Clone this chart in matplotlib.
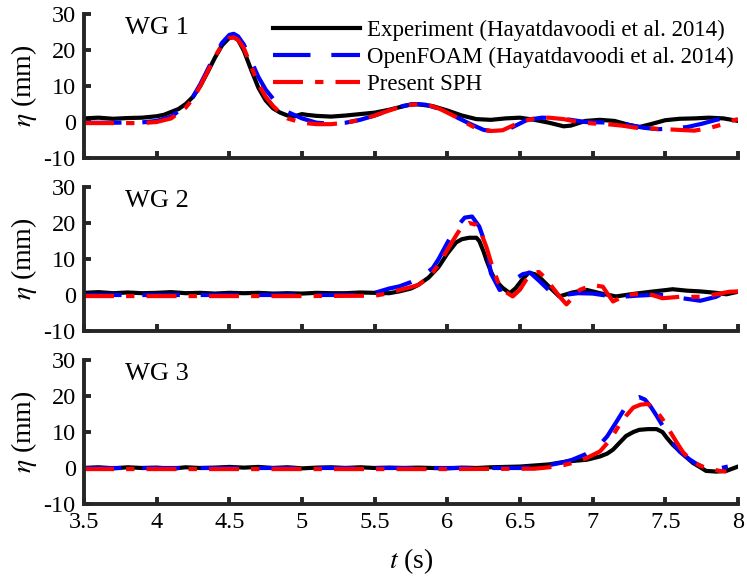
import numpy as np
import matplotlib.pyplot as plt

plt.rcParams['font.family'] = ['Liberation Serif', 'DejaVu Serif']
plt.rcParams['mathtext.fontset'] = 'stix'
plt.rcParams['axes.unicode_minus'] = False

# ---- WG 1 ----
t_exp1 = [3.50, 3.60, 3.70, 3.80, 3.90, 4.00, 4.05, 4.10, 4.15, 4.20, 4.25, 4.30, 4.35, 4.40,
          4.45, 4.50, 4.53, 4.56, 4.60, 4.65, 4.70, 4.75, 4.80, 4.85, 4.90, 4.95, 5.00, 5.03,
          5.10, 5.20, 5.30, 5.40, 5.50, 5.60, 5.70, 5.75, 5.80, 5.90, 6.00, 6.10, 6.20, 6.30,
          6.40, 6.50, 6.60, 6.70, 6.80, 6.85, 6.95, 7.05, 7.15, 7.25, 7.32, 7.40, 7.50, 7.60,
          7.70, 7.80, 7.90, 8.00]
eta_exp1 = [1.0, 1.2, 0.9, 1.1, 1.2, 1.6, 2.0, 2.8, 3.6, 5.0, 7.0, 10.0, 13.8, 17.8,
            21.3, 23.4, 23.6, 22.8, 19.8, 14.5, 9.5, 6.0, 3.8, 2.6, 1.8, 1.6, 2.2, 2.0,
            1.7, 1.5, 1.8, 2.2, 2.6, 3.4, 4.4, 4.9, 4.9, 4.4, 3.2, 1.8, 0.8, 0.6,
            1.0, 1.2, 0.6, -0.2, -1.2, -1.0, 0.3, 0.6, 0.3, -0.8, -1.4, -0.6, 0.5, 0.9,
            1.0, 1.2, 1.0, 0.3]
t_of1 = [3.50, 3.70, 3.90, 4.00, 4.10, 4.20, 4.25, 4.30, 4.35, 4.40, 4.45, 4.50, 4.53, 4.56,
         4.60, 4.65, 4.70, 4.75, 4.80, 4.85, 4.90, 5.00, 5.10, 5.20, 5.30, 5.40, 5.50, 5.60,
         5.70, 5.78, 5.85, 5.95, 6.05, 6.15, 6.25, 6.32, 6.40, 6.48, 6.55, 6.65, 6.75, 6.85,
         6.95, 7.05, 7.15, 7.25, 7.35, 7.45, 7.55, 7.65, 7.75, 7.85, 7.95, 8.00]
eta_of1 = [-0.2, -0.2, -0.1, 0.3, 1.5, 4.5, 7.0, 10.5, 14.5, 18.5, 22.0, 24.2, 24.5, 23.8,
           21.5, 17.0, 12.5, 9.0, 6.5, 4.5, 2.8, 1.0, -0.2, -0.5, -0.2, 0.6, 1.8, 3.2,
           4.5, 5.0, 4.8, 3.6, 1.6, -0.4, -2.2, -2.6, -2.4, -0.8, 0.6, 1.2, 1.1, 0.6,
           0.0, -0.1, -0.2, -0.8, -1.6, -2.0, -1.8, -1.4, -0.5, 0.6, 1.4, 1.3]
t_sph1 = [3.50, 3.70, 3.90, 4.00, 4.10, 4.20, 4.25, 4.30, 4.35, 4.40, 4.45, 4.50, 4.53, 4.56,
          4.60, 4.65, 4.70, 4.75, 4.80, 4.85, 4.90, 5.00, 5.10, 5.20, 5.30, 5.40, 5.50, 5.60,
          5.70, 5.80, 5.88, 5.95, 6.05, 6.10, 6.20, 6.30, 6.38, 6.45, 6.52, 6.60, 6.70, 6.80,
          6.90, 7.00, 7.10, 7.20, 7.30, 7.40, 7.50, 7.60, 7.70, 7.80, 7.90, 7.95, 8.00]
eta_sph1 = [-0.3, -0.3, -0.3, 0.0, 1.0, 4.0, 6.5, 10.0, 14.0, 18.0, 21.5, 23.3, 23.5, 22.8,
            20.5, 15.5, 10.5, 7.0, 4.5, 2.5, 1.0, -0.2, -0.6, -0.6, -0.2, 0.6, 1.8, 3.2,
            4.5, 5.0, 4.6, 3.6, 1.6, 0.4, -1.8, -2.5, -2.3, -1.0, 0.2, 1.0, 1.2, 0.8,
            0.0, -0.4, -0.6, -1.0, -1.6, -1.8, -2.0, -2.2, -2.4, -1.7, -0.6, 0.3, 0.8]

# ---- WG 2 ----
t_exp2 = [3.50, 3.60, 3.70, 3.80, 3.90, 4.00, 4.10, 4.20, 4.30, 4.40, 4.50, 4.60, 4.70, 4.80,
          4.90, 5.00, 5.10, 5.20, 5.30, 5.40, 5.50, 5.60, 5.67, 5.75, 5.80, 5.87, 5.94, 6.00,
          6.06, 6.10, 6.15, 6.20, 6.22, 6.25, 6.27, 6.30, 6.33, 6.38, 6.43, 6.47, 6.52, 6.56,
          6.60, 6.63, 6.70, 6.77, 6.86, 6.96, 7.05, 7.16, 7.28, 7.40, 7.51, 7.55, 7.65, 7.74,
          7.85, 7.92, 8.00]
eta_exp2 = [0.6, 0.8, 0.5, 0.7, 0.5, 0.6, 0.8, 0.5, 0.6, 0.4, 0.6, 0.5, 0.6, 0.4,
            0.5, 0.4, 0.6, 0.5, 0.5, 0.7, 0.6, 0.5, 1.0, 1.8, 2.8, 4.8, 7.8, 11.5,
            14.6, 15.5, 15.9, 15.9, 15.0, 12.0, 9.6, 6.5, 4.1, 2.0, 0.5, 1.9, 4.5, 6.2,
            5.8, 5.1, 2.3, -0.4, 0.7, 1.4, 0.5, -0.4, 0.3, 0.9, 1.4, 1.6, 1.2, 1.0,
            0.6, 0.2, 0.9]
t_of2 = [3.50, 4.00, 4.50, 5.00, 5.40, 5.50, 5.60, 5.67, 5.75, 5.83, 5.90, 5.94, 6.00, 6.06,
         6.12, 6.17, 6.22, 6.27, 6.30, 6.36, 6.40, 6.45, 6.52, 6.57, 6.63, 6.72, 6.80, 6.90,
         7.00, 7.10, 7.20, 7.30, 7.40, 7.51, 7.60, 7.74, 7.85, 7.94, 8.00]
eta_of2 = [0.0, 0.0, 0.0, 0.0, 0.0, 0.6, 1.8, 2.4, 3.6, 5.2, 7.5, 10.0, 14.5, 18.7,
           21.5, 21.8, 19.0, 13.2, 6.0, 1.4, 2.0, 4.0, 5.8, 6.2, 4.0, 0.5, 0.0, 0.5,
           0.4, -0.2, -0.5, -0.2, 0.0, 0.0, -0.8, -1.6, -0.5, 1.4, 1.5]
t_sph2 = [3.50, 4.00, 4.50, 5.00, 5.50, 5.60, 5.67, 5.75, 5.80, 5.88, 5.94, 6.01, 6.06, 6.10,
          6.15, 6.20, 6.23, 6.27, 6.31, 6.35, 6.38, 6.45, 6.50, 6.54, 6.60, 6.63, 6.68, 6.72,
          6.78, 6.82, 6.86, 6.91, 7.00, 7.07, 7.10, 7.14, 7.23, 7.37, 7.48, 7.60, 7.75, 7.85,
          7.94, 8.00]
eta_sph2 = [-0.3, -0.3, -0.3, -0.3, -0.2, 0.5, 1.4, 2.2, 2.8, 5.1, 8.5, 13.2, 16.5, 19.0,
            20.0, 19.5, 17.5, 13.2, 7.8, 3.5, 1.4, -0.4, 1.5, 4.1, 6.2, 6.4, 4.5, 2.3,
            -0.8, -2.6, -0.8, 1.4, 2.8, 2.3, 0.5, -1.8, 0.0, 0.5, -0.9, -0.5, -0.5, 0.2,
            0.9, 1.0]

# ---- WG 3 ----
t_exp3 = [3.50, 3.60, 3.70, 3.80, 3.90, 4.00, 4.10, 4.20, 4.30, 4.40, 4.50, 4.60, 4.70, 4.80,
          4.90, 5.00, 5.10, 5.20, 5.30, 5.40, 5.50, 5.60, 5.70, 5.80, 5.90, 6.00, 6.10, 6.20,
          6.30, 6.40, 6.50, 6.60, 6.70, 6.82, 6.96, 7.05, 7.10, 7.14, 7.18, 7.23, 7.28, 7.32,
          7.38, 7.44, 7.48, 7.51, 7.55, 7.60, 7.65, 7.69, 7.74, 7.78, 7.85, 7.92, 8.00]
eta_exp3 = [0.0, 0.2, -0.1, 0.2, 0.0, 0.1, -0.2, 0.2, 0.0, 0.1, 0.3, 0.1, 0.3, 0.0,
            0.2, -0.1, 0.1, 0.2, 0.0, 0.2, 0.0, 0.1, 0.0, 0.1, 0.0, -0.1, 0.1, 0.0,
            0.2, 0.3, 0.4, 0.7, 1.0, 1.8, 2.3, 3.2, 4.0, 5.1, 6.8, 8.9, 10.0, 10.6,
            10.8, 10.8, 10.0, 8.4, 6.5, 4.6, 2.8, 1.4, 0.2, -0.8, -1.0, -0.8, 0.4]
t_of3 = [3.50, 4.00, 4.50, 5.00, 5.50, 6.00, 6.50, 6.60, 6.70, 6.80, 6.86, 6.95, 7.05, 7.10,
         7.16, 7.22, 7.28, 7.32, 7.36, 7.40, 7.44, 7.50, 7.55, 7.60, 7.67, 7.72, 7.78, 7.85,
         7.93]
eta_of3 = [0.0, 0.0, 0.0, 0.0, 0.0, 0.0, 0.0, 0.3, 0.8, 1.6, 2.3, 3.8, 6.5, 8.8,
           12.6, 16.5, 19.2, 19.7, 19.0, 17.0, 14.5, 10.5, 7.0, 4.5, 2.3, 1.0, 0.0, -0.3,
           0.4]
t_sph3 = [3.50, 4.00, 4.50, 5.00, 5.50, 6.00, 6.60, 6.70, 6.80, 6.86, 6.95, 7.05, 7.12, 7.18,
          7.23, 7.28, 7.33, 7.38, 7.43, 7.48, 7.53, 7.58, 7.62, 7.67, 7.74, 7.81, 7.87, 7.92]
eta_sph3 = [-0.3, -0.3, -0.3, -0.3, -0.3, -0.3, -0.2, 0.2, 0.8, 1.4, 2.6, 4.6, 7.8, 11.7,
            14.5, 16.8, 17.6, 17.8, 16.3, 13.6, 10.3, 7.0, 4.5, 2.3, 0.6, -0.2, -0.8, -1.0]

gauges = ['WG 1', 'WG 2', 'WG 3']
labels = ['Experiment (Hayatdavoodi et al. 2014)',
          'OpenFOAM (Hayatdavoodi et al. 2014)',
          'Present SPH']
series = [
    [(t_exp1, eta_exp1), (t_of1, eta_of1), (t_sph1, eta_sph1)],
    [(t_exp2, eta_exp2), (t_of2, eta_of2), (t_sph2, eta_sph2)],
    [(t_exp3, eta_exp3), (t_of3, eta_of3), (t_sph3, eta_sph3)],
]
xticks = [3.5, 4, 4.5, 5, 5.5, 6, 6.5, 7, 7.5, 8]
xticklabels = ['3.5', '4', '4.5', '5', '5.5', '6', '6.5', '7', '7.5', '8']
yticks = [-10, 0, 10, 20, 30]

fig = plt.figure(figsize=(7.47, 5.78), dpi=100)
W, H = 747, 578
spine_c = '#262626'

for i in range(3):
    top = 14 + 173 * i
    ax = fig.add_axes([84 / W, 1 - (top + 144) / H, 654 / W, 144 / H])
    (te, ee), (to, eo), (ts, es) = series[i]
    ax.plot(te, ee, color='k', lw=3, label=labels[0])
    ax.plot(to, eo, color='#0000ff', lw=3, dashes=(9, 5), label=labels[1])
    ax.plot(ts, es, color='#ff0000', lw=3, dashes=(7.2, 2.9, 2, 2.9), label=labels[2])

    ax.set_xlim(3.5, 8)
    ax.set_ylim(-10, 30)
    ax.set_xticks(xticks)
    ax.set_yticks(yticks)
    ax.set_yticklabels([str(v) for v in yticks])
    if i == 2:
        ax.set_xticklabels(xticklabels)
        ax.set_xlabel('$t$ (s)', fontsize=20, labelpad=9)
    else:
        ax.set_xticklabels([])
    ax.set_ylabel(r'$\eta$ (mm)', fontsize=20, labelpad=3)

    for s in ['top', 'right']:
        ax.spines[s].set_visible(False)
    for s in ['left', 'bottom']:
        ax.spines[s].set_color(spine_c)
        ax.spines[s].set_linewidth(2.8)
    ax.tick_params(direction='in', length=5, width=2.8, color=spine_c,
                   labelsize=17.5, labelcolor='k')
    ax.tick_params(axis='y', pad=6)
    ax.tick_params(axis='x', pad=6)

    ax.text(0.062, 0.90, gauges[i], transform=ax.transAxes, fontsize=19,
            va='center', ha='left')

    if i == 0:
        ax.legend(loc='upper left', bbox_to_anchor=(0.289, 0.96), frameon=False,
                  fontsize=16.5, handlelength=3.8, handletextpad=0.3,
                  labelspacing=0.25, borderpad=0, borderaxespad=0)

fig.savefig('out.png', dpi=100)
